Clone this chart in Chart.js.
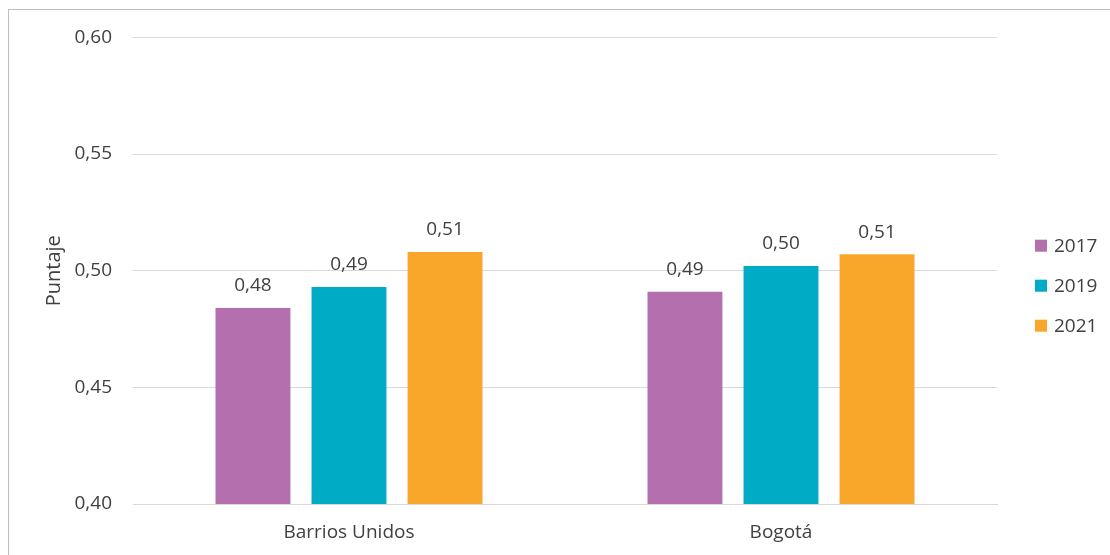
<!DOCTYPE html>
<html>
<head>
<meta charset="utf-8">
<script src="https://cdn.jsdelivr.net/npm/chart.js@4.4.1/dist/chart.umd.min.js"></script>
<style>
  body { margin: 0; background: #fff; }
  #box {
    position: absolute; left: 8px; top: 9px;
    width: 1110px; height: 560px;
    border-top: 1px solid #bfbfbf; border-left: 1px solid #bfbfbf;
  }
  #wrap { position: absolute; left: 0; top: -5px; width: 1102px; height: 551px; }
</style>
</head>
<body>
<div id="box"><div id="wrap"><canvas id="myChart"></canvas></div></div>
<script>
// datos
const categorias = ['Barrios Unidos', 'Bogotá'];
const anios = ['2017', '2019', '2021'];
const valores2017 = [0.484, 0.491];
const valores2019 = [0.493, 0.502];
const valores2021 = [0.508, 0.507];
const ticksY = [0.40, 0.45, 0.50, 0.55, 0.60];

const colores = ['#b36fae', '#00acc5', '#f8a72a'];
const fuente = "'Open Sans', 'Noto Sans', sans-serif";
const gris = '#404040';

// etiquetas de valor encima de cada barra
const etiquetas = {
  id: 'etiquetas',
  afterDatasetsDraw(chart) {
    const ctx = chart.ctx;
    ctx.save();
    ctx.font = '19px ' + fuente;
    ctx.fillStyle = gris;
    ctx.textAlign = 'center';
    ctx.textBaseline = 'middle';
    chart.data.datasets.forEach((ds, i) => {
      chart.getDatasetMeta(i).data.forEach((bar, j) => {
        ctx.fillText(ds.data[j].toFixed(2).replace('.', ','), bar.x, bar.y - 22);
      });
    });
    ctx.restore();
  }
};

// leyenda a la derecha
const leyenda = {
  id: 'leyenda',
  afterDraw(chart) {
    const ctx = chart.ctx;
    const a = chart.chartArea;
    const cy = (a.top + a.bottom) / 2;
    ctx.save();
    ctx.font = '19px ' + fuente;
    ctx.textBaseline = 'middle';
    chart.data.datasets.forEach((ds, i) => {
      const y = cy + 15 + (i - 1) * 40;
      ctx.fillStyle = ds.backgroundColor;
      ctx.fillRect(a.right + 38, y - 6, 12, 12);
      ctx.fillStyle = gris;
      ctx.fillText(ds.label, a.right + 57, y + 1);
    });
    ctx.restore();
  }
};

const ctx = document.getElementById('myChart').getContext('2d');
const myChart = new Chart(ctx, {
  type: 'bar',
  data: {
    labels: categorias,
    datasets: [
      { label: anios[0], data: valores2017, backgroundColor: colores[0] },
      { label: anios[1], data: valores2019, backgroundColor: colores[1] },
      { label: anios[2], data: valores2021, backgroundColor: colores[2] }
    ]
  },
  options: {
    responsive: true,
    maintainAspectRatio: false,
    animation: false,
    categoryPercentage: 0.667,
    barPercentage: 0.78,
    layout: { padding: { top: 28, left: 0, right: 114, bottom: 0 } },
    scales: {
      x: {
        grid: { display: false, drawTicks: false },
        border: { color: '#d9d9d9', width: 1 },
        ticks: { color: gris, font: { family: fuente, size: 19 }, padding: 17 },
        afterFit: (s) => { s.height = 52; }
      },
      y: {
        min: 0.40,
        max: 0.60,
        afterBuildTicks: (s) => { s.ticks = ticksY.map(v => ({ value: v })); },
        grid: { color: '#d9d9d9', drawTicks: false },
        border: { display: false },
        ticks: {
          color: gris,
          padding: 21,
          font: { family: fuente, size: 19 },
          callback: (v) => v.toFixed(2).replace('.', ',')
        },
        title: {
          display: true,
          text: 'Puntaje',
          color: gris,
          font: { family: fuente, size: 20 },
          padding: { top: 33 }
        },
        afterFit: (s) => { s.width = 124; }
      }
    },
    plugins: {
      legend: { display: false },
      tooltip: { enabled: false }
    }
  },
  plugins: [etiquetas, leyenda]
});
</script>
</body>
</html>
